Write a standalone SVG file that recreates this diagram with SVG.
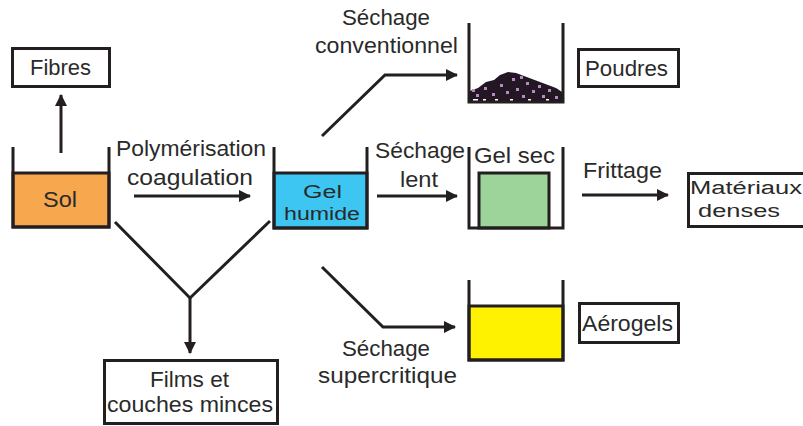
<svg xmlns="http://www.w3.org/2000/svg" width="803" height="426" viewBox="0 0 803 426">
  <style>
    .bk { fill: none; stroke: #231f20; stroke-width: 3; stroke-linejoin: miter; }
    .box { fill: #fff; stroke: #231f20; stroke-width: 3; }
    .lbl { font-family: "Liberation Sans", Arial, sans-serif; font-size: 22px; fill: #2a2a2a; }
    .sm { font-size: 18px; }
    .con { fill: none; stroke: #231f20; stroke-width: 3; }
  </style>
  <defs>
    <marker id="head" viewBox="0 0 12 12" refX="11" refY="6" markerWidth="12" markerHeight="12" markerUnits="userSpaceOnUse" orient="auto">
      <path d="M0,0 L12,6 L0,12 Z" fill="#231f20"/>
    </marker>
  </defs>
  <rect width="803" height="426" fill="#fff"/>

  <!-- connectors -->
  <g id="connectors">
    <path class="con" d="M61,153 V95" marker-end="url(#head)"/>
    <path class="con" d="M134,196 H250" marker-end="url(#head)"/>
    <path class="con" d="M115,222 L190,298 L270,221"/>
    <path class="con" d="M190,298 V353" marker-end="url(#head)"/>
    <path class="con" d="M322,136 L385,75 H457" marker-end="url(#head)"/>
    <path class="con" d="M377,196 H457" marker-end="url(#head)"/>
    <path class="con" d="M582,195 H668" marker-end="url(#head)"/>
    <path class="con" d="M322,267 L383,327 H455" marker-end="url(#head)"/>
  </g>

  <!-- edge labels -->
  <g id="labels">
    <text class="lbl" x="116" y="156" textLength="150" lengthAdjust="spacingAndGlyphs">Polymérisation</text>
    <text class="lbl" x="127" y="185" textLength="126" lengthAdjust="spacingAndGlyphs">coagulation</text>
    <text class="lbl" x="342" y="25" textLength="88" lengthAdjust="spacingAndGlyphs">Séchage</text>
    <text class="lbl" x="315" y="53" textLength="143" lengthAdjust="spacingAndGlyphs">conventionnel</text>
    <text class="lbl" x="375" y="158" textLength="90" lengthAdjust="spacingAndGlyphs">Séchage</text>
    <text class="lbl" x="400" y="187" textLength="38" lengthAdjust="spacingAndGlyphs">lent</text>
    <text class="lbl" x="583" y="178" textLength="79" lengthAdjust="spacingAndGlyphs">Frittage</text>
    <text class="lbl" x="342" y="356" textLength="88" lengthAdjust="spacingAndGlyphs">Séchage</text>
    <text class="lbl" x="318" y="383" textLength="139" lengthAdjust="spacingAndGlyphs">supercritique</text>
  </g>

  <!-- Fibres -->
  <g id="fibres">
    <rect class="box" x="12.5" y="48.5" width="97" height="38"/>
    <text class="lbl" x="30" y="75" textLength="61" lengthAdjust="spacingAndGlyphs">Fibres</text>
  </g>

  <!-- Sol -->
  <g id="sol">
    <rect x="13" y="173" width="96" height="54" fill="#f7a84f" stroke="#231f20" stroke-width="3"/>
    <path class="bk" d="M13,147 V227 H109 V147"/>
    <text class="lbl" x="43" y="207" textLength="34" lengthAdjust="spacingAndGlyphs">Sol</text>
  </g>

  <!-- Gel humide -->
  <g id="gel-humide">
    <rect x="274" y="173" width="93" height="55" fill="#3ec6f2" stroke="#231f20" stroke-width="3"/>
    <path class="bk" d="M274,147 V228 H367 V147"/>
    <text class="lbl sm" x="303" y="198" textLength="39" lengthAdjust="spacingAndGlyphs">Gel</text>
    <text class="lbl sm" x="284" y="220" textLength="76" lengthAdjust="spacingAndGlyphs">humide</text>
  </g>

  <!-- Powder beaker -->
  <g id="poudre-becher">
    <path d="M470,91 L478,88 L486,82 L494,80 L500,75 L508,72 L516,73 L524,76 L532,79 L540,82 L548,85 L556,88 L562,92 V101 H470 Z" fill="#221722"/>
    <g fill="#b887c7">
      <rect x="476" y="94" width="3" height="3"/>
      <rect x="484" y="87" width="3" height="3"/>
      <rect x="492" y="93" width="3" height="3"/>
      <rect x="500" y="84" width="3" height="3"/>
      <rect x="506" y="91" width="3" height="3"/>
      <rect x="512" y="78" width="3" height="3"/>
      <rect x="516" y="88" width="3" height="3"/>
      <rect x="522" y="95" width="3" height="3"/>
      <rect x="526" y="82" width="3" height="3"/>
      <rect x="532" y="90" width="3" height="3"/>
      <rect x="538" y="85" width="3" height="3"/>
      <rect x="542" y="95" width="3" height="3"/>
      <rect x="548" y="89" width="3" height="3"/>
      <rect x="555" y="96" width="3" height="3"/>
      <rect x="472" y="89" width="3" height="3"/>
      <rect x="520" y="76" width="3" height="3"/>
    </g>
    <g fill="#fff">
      <rect x="473" y="99" width="5" height="2"/>
      <rect x="483" y="99" width="3" height="2"/>
      <rect x="495" y="99" width="3" height="2"/>
      <rect x="510" y="99" width="3" height="2"/>
      <rect x="528" y="99" width="3" height="2"/>
      <rect x="546" y="99" width="3" height="2"/>
    </g>
    <path class="bk" d="M469,23 V102 H563 V23"/>
  </g>

  <!-- Poudres -->
  <g id="poudres">
    <rect class="box" x="578.5" y="49.5" width="100" height="37"/>
    <text class="lbl" x="585" y="76" textLength="83" lengthAdjust="spacingAndGlyphs">Poudres</text>
  </g>

  <!-- Gel sec -->
  <g id="gel-sec">
    <rect x="479" y="173" width="70" height="55" fill="#9dd49a" stroke="#231f20" stroke-width="3"/>
    <path class="bk" d="M469,147 V228 H563 V147"/>
    <text class="lbl" x="474" y="163" textLength="81" lengthAdjust="spacingAndGlyphs">Gel sec</text>
  </g>

  <!-- Matériaux denses -->
  <g id="materiaux-denses">
    <rect x="688.5" y="173.5" width="130" height="53" fill="#fff" stroke="#231f20" stroke-width="3"/>
    <text class="lbl sm" x="690" y="194" textLength="112" lengthAdjust="spacingAndGlyphs">Matériaux</text>
    <text class="lbl sm" x="698" y="217" textLength="82" lengthAdjust="spacingAndGlyphs">denses</text>
  </g>

  <!-- Aérogel beaker -->
  <g id="aerogel-becher">
    <rect x="469" y="306" width="94" height="54" fill="#fff200" stroke="#231f20" stroke-width="3"/>
    <path class="bk" d="M469,280 V360 H563 V280"/>
  </g>

  <!-- Aérogels -->
  <g id="aerogels">
    <rect class="box" x="579.5" y="303.5" width="99" height="39"/>
    <text class="lbl" x="582" y="331" textLength="91" lengthAdjust="spacingAndGlyphs">Aérogels</text>
  </g>

  <!-- Films et couches minces -->
  <g id="films">
    <rect class="box" x="104.5" y="360.5" width="173" height="63"/>
    <text class="lbl" x="150" y="387" textLength="79" lengthAdjust="spacingAndGlyphs">Films et</text>
    <text class="lbl" x="107" y="412" textLength="166" lengthAdjust="spacingAndGlyphs">couches minces</text>
  </g>
</svg>
